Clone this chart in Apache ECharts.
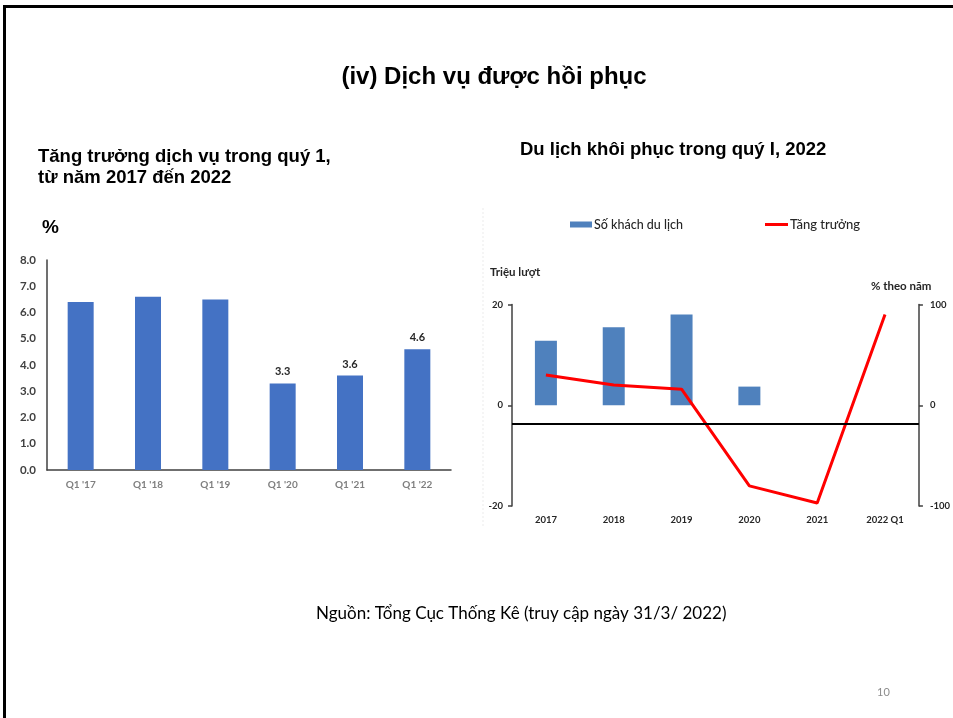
<!DOCTYPE html>
<html>
<head>
<meta charset="utf-8">
<script src="https://cdn.jsdelivr.net/npm/echarts@6/dist/echarts.min.js"></script>
<style>
html,body{margin:0;padding:0;background:#fff;}
#c{width:953px;height:718px;}
</style>
</head>
<body>
<div id="c"></div>
<script>
// ---- Left chart: services growth, Q1 of each year (%) ----
const serviceCategories = ["Q1 '17", "Q1 '18", "Q1 '19", "Q1 '20", "Q1 '21", "Q1 '22"];
const serviceGrowth = [6.4, 6.6, 6.5, 3.3, 3.6, 4.6];
const serviceLabelled = [false, false, false, true, true, true];

// ---- Right chart: tourism ----
const tourismCategories = ["2017", "2018", "2019", "2020", "2021", "2022 Q1"];
const touristMillions = [12.8, 15.5, 18.0, 3.7, null, null];
const tourismGrowthPct = [30, 20, 16, -80, -97, 90];
const crossLineValue = [-3.7];

const titleText = "(iv) Dịch vụ được hồi phục";
const leftTitle = ["Tăng trưởng dịch vụ trong quý 1,", "từ năm 2017 đến 2022"];
const rightTitle = "Du lịch khôi phục trong quý I, 2022";
const sourceText = "Nguồn: Tổng Cục Thống Kê (truy cập ngày 31/3/ 2022)";
const pageNo = "10";

const chart = echarts.init(document.getElementById('c'), null, {renderer: 'canvas'});
const ARIAL = "'Liberation Sans', Arial, sans-serif";
const CAL = "Lato, 'Open Sans', sans-serif";

const option = {
  animation: false,
  backgroundColor: '#fff',
  graphic: [
    {type: 'rect', shape: {x: 4.5, y: 6.5, width: 960, height: 730}, style: {fill: 'none', stroke: '#000', lineWidth: 3}, silent: true},
    {type: 'line', shape: {x1: 483, y1: 208, x2: 483, y2: 527}, style: {stroke: '#ececec', lineWidth: 1, lineDash: [2, 2]}, silent: true},
    {type: 'text', x: 494, y: 77, style: {text: titleText, font: "bold 24px " + ARIAL, fill: '#000', textAlign: 'center', textVerticalAlign: 'middle'}},
    {type: 'text', x: 38, y: 157, style: {text: leftTitle[0], font: "bold 18.5px " + ARIAL, fill: '#000', textVerticalAlign: 'middle'}},
    {type: 'text', x: 38, y: 178, style: {text: leftTitle[1], font: "bold 18.5px " + ARIAL, fill: '#000', textVerticalAlign: 'middle'}},
    {type: 'text', x: 42, y: 228, style: {text: '%', font: "bold 19px " + ARIAL, fill: '#000', textVerticalAlign: 'middle'}},
    {type: 'text', x: 520, y: 150, style: {text: rightTitle, font: "bold 18.5px " + ARIAL, fill: '#000', textVerticalAlign: 'middle'}},
    {type: 'text', x: 490, y: 272, style: {text: 'Triệu lượt', font: "bold 11.5px " + CAL, fill: '#262626', textVerticalAlign: 'middle'}},
    {type: 'text', x: 871, y: 286, style: {text: '% theo năm', font: "bold 11.5px " + CAL, fill: '#262626', textVerticalAlign: 'middle'}},
    {type: 'text', x: 316, y: 614, style: {text: sourceText, font: "17px " + CAL, fill: '#000', textVerticalAlign: 'middle'}},
    {type: 'text', x: 877, y: 692, style: {text: pageNo, font: "11px " + CAL, fill: '#8c8c8c', textVerticalAlign: 'middle'}}
  ],
  legend: [
    {
      data: [{name: 'Số khách du lịch', icon: 'rect'}],
      left: 570, top: 218, padding: 0, itemWidth: 22, itemHeight: 6, itemGap: 0,
      textStyle: {fontFamily: CAL, fontSize: 12.5, fontWeight: 500, color: '#262626', padding: [0, 0, 0, -3]},
      selectedMode: false
    },
    {
      data: [{name: 'Tăng trưởng', icon: 'rect', itemStyle: {color: '#ff0000'}}],
      left: 765, top: 218, padding: 0, itemWidth: 23, itemHeight: 3, itemGap: 0,
      textStyle: {fontFamily: CAL, fontSize: 13, fontWeight: 500, color: '#262626', padding: [0, 0, 0, -3]},
      selectedMode: false
    }
  ],
  grid: [
    {left: 47, top: 260, width: 404, height: 210},
    {left: 512, top: 304.5, width: 416, height: 201.5}
  ],
  xAxis: [
    {
      type: 'category', gridIndex: 0, data: serviceCategories,
      axisLine: {lineStyle: {color: '#404040', width: 1.5}},
      axisTick: {show: false},
      axisLabel: {color: '#7f7f7f', fontFamily: CAL, fontWeight: 'bold', fontSize: 10, margin: 10}
    },
    {
      type: 'category', gridIndex: 1, data: tourismCategories,
      axisLine: {show: false},
      axisTick: {show: false},
      axisLabel: {color: '#262626', fontFamily: CAL, fontWeight: 'bold', fontSize: 9.5, margin: 9}
    }
  ],
  yAxis: [
    {
      type: 'value', gridIndex: 0, min: 0, max: 8, interval: 1,
      axisLine: {show: true, lineStyle: {color: '#404040', width: 1.5}},
      axisTick: {show: false},
      splitLine: {show: false},
      axisLabel: {color: '#404040', fontFamily: CAL, fontWeight: 'bold', fontSize: 11.5, margin: 11,
        formatter: v => v.toFixed(1)}
    },
    {
      type: 'value', gridIndex: 1, min: -20, max: 20, interval: 20,
      axisLine: {show: true, lineStyle: {color: '#404040', width: 1.5}},
      axisTick: {show: true, length: 4, lineStyle: {color: '#404040', width: 1.5}},
      splitLine: {show: false},
      axisLabel: {color: '#262626', fontFamily: CAL, fontWeight: 'bold', fontSize: 9.5, margin: 9}
    },
    {
      type: 'value', gridIndex: 1, position: 'right', min: -100, max: 100, interval: 100,
      axisLine: {show: true, lineStyle: {color: '#404040', width: 1.5}},
      axisTick: {show: true, length: 4, lineStyle: {color: '#404040', width: 1.5}},
      splitLine: {show: false},
      axisLabel: {color: '#262626', fontFamily: CAL, fontWeight: 'bold', fontSize: 9.5, margin: 11}
    }
  ],
  series: [
    {
      type: 'bar', xAxisIndex: 0, yAxisIndex: 0, barWidth: 26,
      itemStyle: {color: '#4472c4'},
      data: serviceGrowth.map((v, i) => ({
        value: v,
        label: {show: serviceLabelled[i], position: 'top', distance: 6,
          formatter: p => p.value.toFixed(1),
          color: '#262626', fontFamily: CAL, fontWeight: 'bold', fontSize: 11}
      }))
    },
    {
      name: 'Số khách du lịch', type: 'bar', xAxisIndex: 1, yAxisIndex: 1, barWidth: 22,
      itemStyle: {color: '#4f81bd'},
      data: touristMillions,
      markLine: {
        silent: true, symbol: 'none', label: {show: false},
        lineStyle: {color: '#000', width: 1.8, type: 'solid'},
        data: crossLineValue.map(v => ({yAxis: v}))
      }
    },
    {
      name: 'Tăng trưởng', type: 'line', xAxisIndex: 1, yAxisIndex: 2,
      showSymbol: false, symbol: 'none',
      lineStyle: {color: '#ff0000', width: 3},
      itemStyle: {color: '#ff0000'},
      data: tourismGrowthPct
    }
  ]
};
chart.setOption(option);
</script>
</body>
</html>
